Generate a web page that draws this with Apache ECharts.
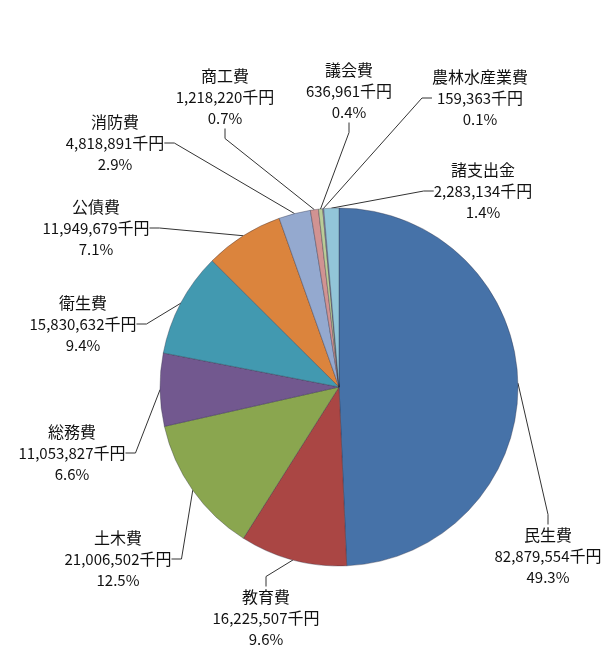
<!DOCTYPE html>
<html>
<head>
<meta charset="utf-8">
<script src="https://cdn.jsdelivr.net/npm/echarts@6/dist/echarts.min.js"></script>
<style>
  html, body { margin: 0; padding: 0; background: #fff; }
  #chart { width: 615px; height: 671px; }
</style>
</head>
<body>
<div id="chart"></div>
<script>
// 歳出 by category, in 千円, clockwise from 12 o'clock
const names = ['民生費', '教育費', '土木費', '総務費', '衛生費', '公債費', '消防費', '商工費', '議会費', '農林水産業費', '諸支出金'];
const amounts = [82879554, 16225507, 21006502, 11053827, 15830632, 11949679, 4818891, 1218220, 636961, 159363, 2283134];
// shares as printed on the chart (%)
const shares = ['49.3', '9.6', '12.5', '6.6', '9.4', '7.1', '2.9', '0.7', '0.4', '0.1', '1.4'];

const colors = ['#4672A8', '#AA4644', '#8AA64F', '#72588F', '#4299B0', '#DB843D', '#94A9CF', '#D19392', '#BACC97', '#A99BBD', '#92C5D8'];
// where Excel put each label block (centre), same order as names
const labelSpots = [
  [548, 556], [266, 618], [118, 559], [72, 453], [83, 324], [96, 228],
  [115, 143], [225, 97], [349, 91], [480, 98], [483, 191]
];

const chart = echarts.init(document.getElementById('chart'));
chart.setOption({
  animation: false,
  color: colors,
  series: [{
    type: 'pie',
    center: [339, 387],
    radius: 179,
    startAngle: 90,
    clockwise: true,
    itemStyle: { borderColor: 'rgba(40,40,60,0.35)', borderWidth: 1 },
    label: {
      show: true,
      fontFamily: 'Noto Sans CJK JP',
      fontSize: 15,
      lineHeight: 21,
      color: '#111',
      align: 'center',
      overflow: 'none',
      formatter: p => '{n|' + p.name + '}\n' + p.value.toLocaleString('en-US') + '{n|千円}\n' + shares[p.dataIndex] + '%',
      rich: {
        n: { fontSize: 16, lineHeight: 21, fontFamily: 'Noto Sans CJK JP', color: '#111' }
      }
    },
    labelLine: { show: true, length: 10, length2: 10, lineStyle: { color: '#333', width: 1 } },
    labelLayout: p => ({
      x: labelSpots[p.dataIndex][0],
      y: labelSpots[p.dataIndex][1],
      align: 'center',
      verticalAlign: 'middle'
    }),
    data: names.map((n, i) => ({ name: n, value: amounts[i] }))
  }]
});
</script>
</body>
</html>
